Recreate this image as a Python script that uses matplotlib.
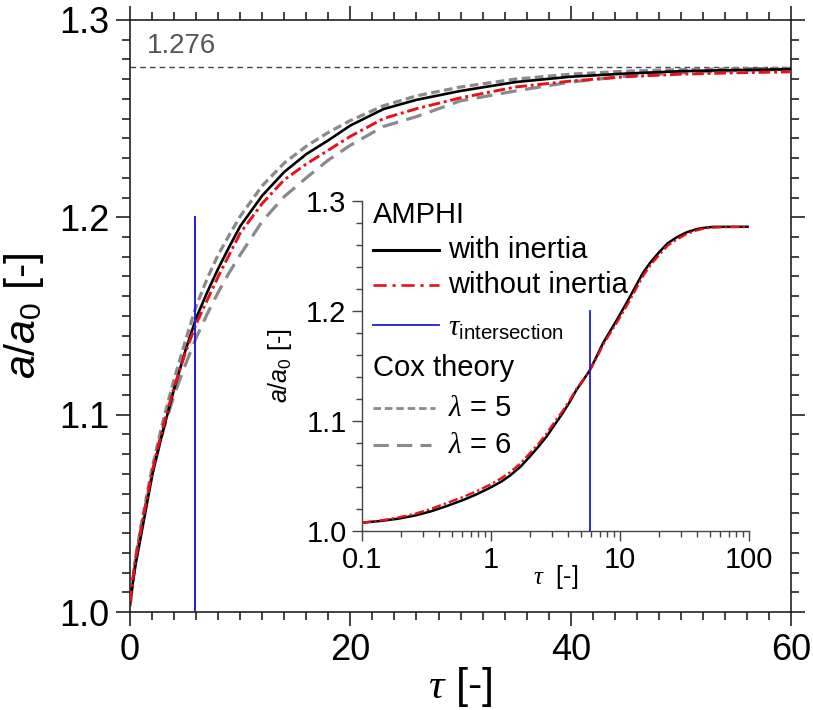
import matplotlib
matplotlib.use("Agg")
import matplotlib.pyplot as plt
import numpy as np
from matplotlib.ticker import MultipleLocator, LogLocator, NullFormatter, FixedLocator

plt.rcParams["font.family"] = ["Liberation Sans", "DejaVu Sans"]
plt.rcParams["mathtext.fontset"] = "custom"
plt.rcParams["mathtext.rm"] = "Liberation Sans"
plt.rcParams["mathtext.it"] = "Liberation Sans:italic"
plt.rcParams["mathtext.cal"] = "Liberation Serif:italic"

# --- data ------------------------------------------------------------------
# AMPHI simulations, main (linear) panel
tau_amphi = [0, 0.1, 0.2, 0.3, 0.5, 0.7, 1, 1.5, 2, 2.5, 3, 4, 5, 6, 7, 8, 9,
             10, 12, 14, 16, 18, 20, 23, 26, 30, 35, 40, 45, 50, 55, 60]
with_inertia = [1.005, 1.009, 1.013, 1.017, 1.024, 1.030, 1.039, 1.054, 1.069,
                1.081, 1.092, 1.113, 1.132, 1.149, 1.162, 1.174, 1.185,
                1.1955, 1.211, 1.223, 1.232, 1.239, 1.2465, 1.2548, 1.2595,
                1.2640, 1.2685, 1.2712, 1.2728, 1.2740, 1.2746, 1.2750]
without_inertia = [1.005, 1.010, 1.015, 1.019, 1.027, 1.033, 1.042, 1.057,
                   1.071, 1.083, 1.094, 1.114, 1.131, 1.146, 1.158, 1.170,
                   1.181, 1.192, 1.207, 1.219, 1.227, 1.234, 1.241, 1.250,
                   1.255, 1.2605, 1.266, 1.269, 1.2712, 1.2725, 1.2732,
                   1.2737]

# AMPHI simulations
tau_inset = [0.1, 0.14, 0.19, 0.26, 0.34, 0.45, 0.61, 0.78, 0.98, 1.2, 1.4,
             1.7, 2.0, 2.35, 2.7, 3.1, 3.6, 4.1, 4.6, 5.2, 5.85, 6.6, 7.4,
             8.4, 9.5, 10.7, 12, 13.5, 15.1, 17.5, 20.4, 23.5, 27.7, 33, 39.3,
             45, 52.8, 65, 80, 100]
inset_with = [1.0076, 1.0092, 1.0112, 1.0142, 1.0178, 1.0225, 1.0282,
              1.0335, 1.0392, 1.0448, 1.0502, 1.0585, 1.0675, 1.0770,
              1.0857, 1.0960, 1.1070, 1.1175, 1.1280, 1.1370, 1.1460,
              1.1585, 1.1706, 1.1815, 1.1920, 1.2025, 1.2130, 1.2240,
              1.2345, 1.2450, 1.2540, 1.2615, 1.2670, 1.2715, 1.2743,
              1.2756, 1.2764, 1.2765, 1.2765, 1.2765]
inset_without = [1.0076, 1.0096, 1.0122, 1.0158, 1.0200, 1.0252, 1.0310,
                 1.0363, 1.0420, 1.0478, 1.0532, 1.0615, 1.0705, 1.0795,
                 1.0885, 1.0985, 1.1090, 1.1190, 1.1290, 1.1375, 1.1460,
                 1.1570, 1.1690, 1.1795, 1.1895, 1.1998, 1.2100, 1.2210,
                 1.2315, 1.2425, 1.2515, 1.2595, 1.2650, 1.2700, 1.2732,
                 1.2750, 1.2758, 1.2762, 1.2763, 1.2763]

# Cox theory
tau_cox = [0, 0.5, 1, 2, 3, 4, 5, 6, 7, 8, 9, 10, 12, 14, 16, 18, 20, 23, 26,
           30, 35, 40, 45, 50, 55, 60]
cox_lambda5 = [1.003, 1.028, 1.044, 1.073, 1.097, 1.118, 1.137, 1.155, 1.169,
               1.181, 1.191, 1.2005, 1.216, 1.2275, 1.236, 1.243, 1.249,
               1.2565, 1.2615, 1.266, 1.2700, 1.2725, 1.2740, 1.2748, 1.2752,
               1.2755]
cox_lambda6 = [1.003, 1.027, 1.042, 1.070, 1.092, 1.110, 1.125, 1.139, 1.151,
               1.162, 1.172, 1.181, 1.198, 1.2105, 1.220, 1.229, 1.2365,
               1.246, 1.251, 1.259, 1.264, 1.2685, 1.2715, 1.2732, 1.2743,
               1.2750]

a_limit = 1.276
tau_intersection = 5.9

BLACK = "black"
RED = "#e8101a"
GRAY = "#8a8a8a"
BLUE = "#1c1cd8"

fig = plt.figure(figsize=(8.13, 7.10), dpi=100)
ax = fig.add_axes([0.160, 0.138, 0.813, 0.834])

# main panel
ax.axhline(a_limit, color="#444444", lw=1.0, ls=(0, (4, 3)), zorder=1)
ax.text(1.5, 1.2866, f"{a_limit:.3f}", color="#555555", fontsize=20,
        va="center", ha="left")
ax.plot(tau_cox, cox_lambda6, color=GRAY, lw=2.3, ls=(0, (5, 2.7)), zorder=2)
ax.plot(tau_cox, cox_lambda5, color=GRAY, lw=2.3, ls=(0, (2.7, 1.4)), zorder=2)
ax.plot(tau_amphi, with_inertia, color=BLACK, lw=1.9, zorder=3)
ax.plot(tau_amphi, without_inertia, color=RED, lw=2.1,
        ls=(0, (4, 1.3, 1, 1.3)), zorder=4)
ax.plot([tau_intersection, tau_intersection], [1.0, 1.2], color=BLUE, lw=1.4,
        zorder=5)

ax.set_xlim(0, 60)
ax.set_ylim(1.0, 1.3)
ax.xaxis.set_major_locator(MultipleLocator(20))
ax.xaxis.set_minor_locator(MultipleLocator(2))
ax.yaxis.set_major_locator(MultipleLocator(0.1))
ax.yaxis.set_minor_locator(MultipleLocator(0.01))
ax.yaxis.set_major_formatter(plt.FuncFormatter(lambda v, p: f"{v:.1f}"))
ax.tick_params(which="both", direction="out", top=True, right=True,
               width=1.2, color="#222222", labelsize=26)
ax.tick_params(which="major", length=10, pad=5)
ax.tick_params(which="minor", length=6)
for s in ax.spines.values():
    s.set_linewidth(1.2)
    s.set_color("#222222")
ax.set_xlabel(r"$\mathcal{\tau}$ [-]", fontsize=31, labelpad=-2)
ax.set_ylabel(r"$a/a_0$ [-]", fontsize=31, labelpad=9)

# inset (log scale)
ins = fig.add_axes([0.445, 0.252, 0.476, 0.465])
ins.plot(tau_inset, inset_without, color=RED, lw=1.7,
         ls=(0, (4, 1.3, 1, 1.3)), zorder=3)
ins.plot(tau_inset, inset_with, color=BLACK, lw=1.8, zorder=2)
ins.plot([tau_intersection, tau_intersection], [1.0, 1.2], color=BLUE, lw=1.3,
         zorder=4)
ins.set_xscale("log")
ins.set_xlim(0.1, 100)
ins.set_ylim(1.0, 1.3)
ins.xaxis.set_major_locator(FixedLocator([0.1, 1, 10, 100]))
ins.xaxis.set_major_formatter(plt.FuncFormatter(lambda v, p: f"{v:g}"))
ins.xaxis.set_minor_locator(LogLocator(base=10, subs=np.arange(2, 10)))
ins.xaxis.set_minor_formatter(NullFormatter())
ins.yaxis.set_major_locator(MultipleLocator(0.1))
ins.yaxis.set_minor_locator(MultipleLocator(0.02))
ins.yaxis.set_major_formatter(plt.FuncFormatter(lambda v, p: f"{v:.1f}"))
ins.spines["top"].set_visible(False)
ins.spines["right"].set_visible(False)
for s in ("left", "bottom"):
    ins.spines[s].set_linewidth(1.0)
    ins.spines[s].set_color("#444444")
ins.patch.set_alpha(0)
ins.tick_params(which="both", direction="out", color="#444444", width=1.0,
                labelsize=21)
ins.tick_params(which="major", length=7, pad=4)
ins.tick_params(which="minor", length=4)
ins.set_xlabel(r"$\mathcal{\tau}$  [-]", fontsize=18, labelpad=-8)
ins.set_ylabel(r"$a/a_0$ [-]", fontsize=18, labelpad=9)

# legend drawn inside the inset
T = ins.transAxes
x0, x1, xt = 0.028, 0.200, 0.222
fs = 21
ins.text(x0, 0.958, "AMPHI", transform=T, fontsize=fs, va="center")
ins.plot([x0, x1], [0.852, 0.852], transform=T, color=BLACK, lw=2.2)
ins.text(xt, 0.852, "with inertia", transform=T, fontsize=fs, va="center")
ins.plot([x0, x1], [0.745, 0.745], transform=T, color=RED, lw=1.9,
         ls=(0, (5, 2.2, 1.2, 2.2)))
ins.text(xt, 0.745, "without inertia", transform=T, fontsize=fs, va="center")
ins.plot([x0, x1], [0.624, 0.624], transform=T, color=BLUE, lw=1.3)
ins.text(xt, 0.615, r"$\mathcal{\tau}_{\mathrm{intersection}}$", transform=T,
         fontsize=fs, va="center")
ins.text(x0, 0.494, "Cox theory", transform=T, fontsize=fs, va="center")
ins.plot([x0, 0.19], [0.373, 0.373], transform=T, color=GRAY, lw=2.0,
         ls=(0, (2.7, 1.4)))
ins.text(xt, 0.373, r"$\mathcal{\lambda}$ = 5", transform=T, fontsize=fs,
         va="center")
ins.plot([x0, 0.18], [0.261, 0.261], transform=T, color=GRAY, lw=2.2,
         ls=(0, (5, 2.7)))
ins.text(xt, 0.261, r"$\mathcal{\lambda}$ = 6", transform=T, fontsize=fs,
         va="center")

fig.savefig("out.png", dpi=100)
